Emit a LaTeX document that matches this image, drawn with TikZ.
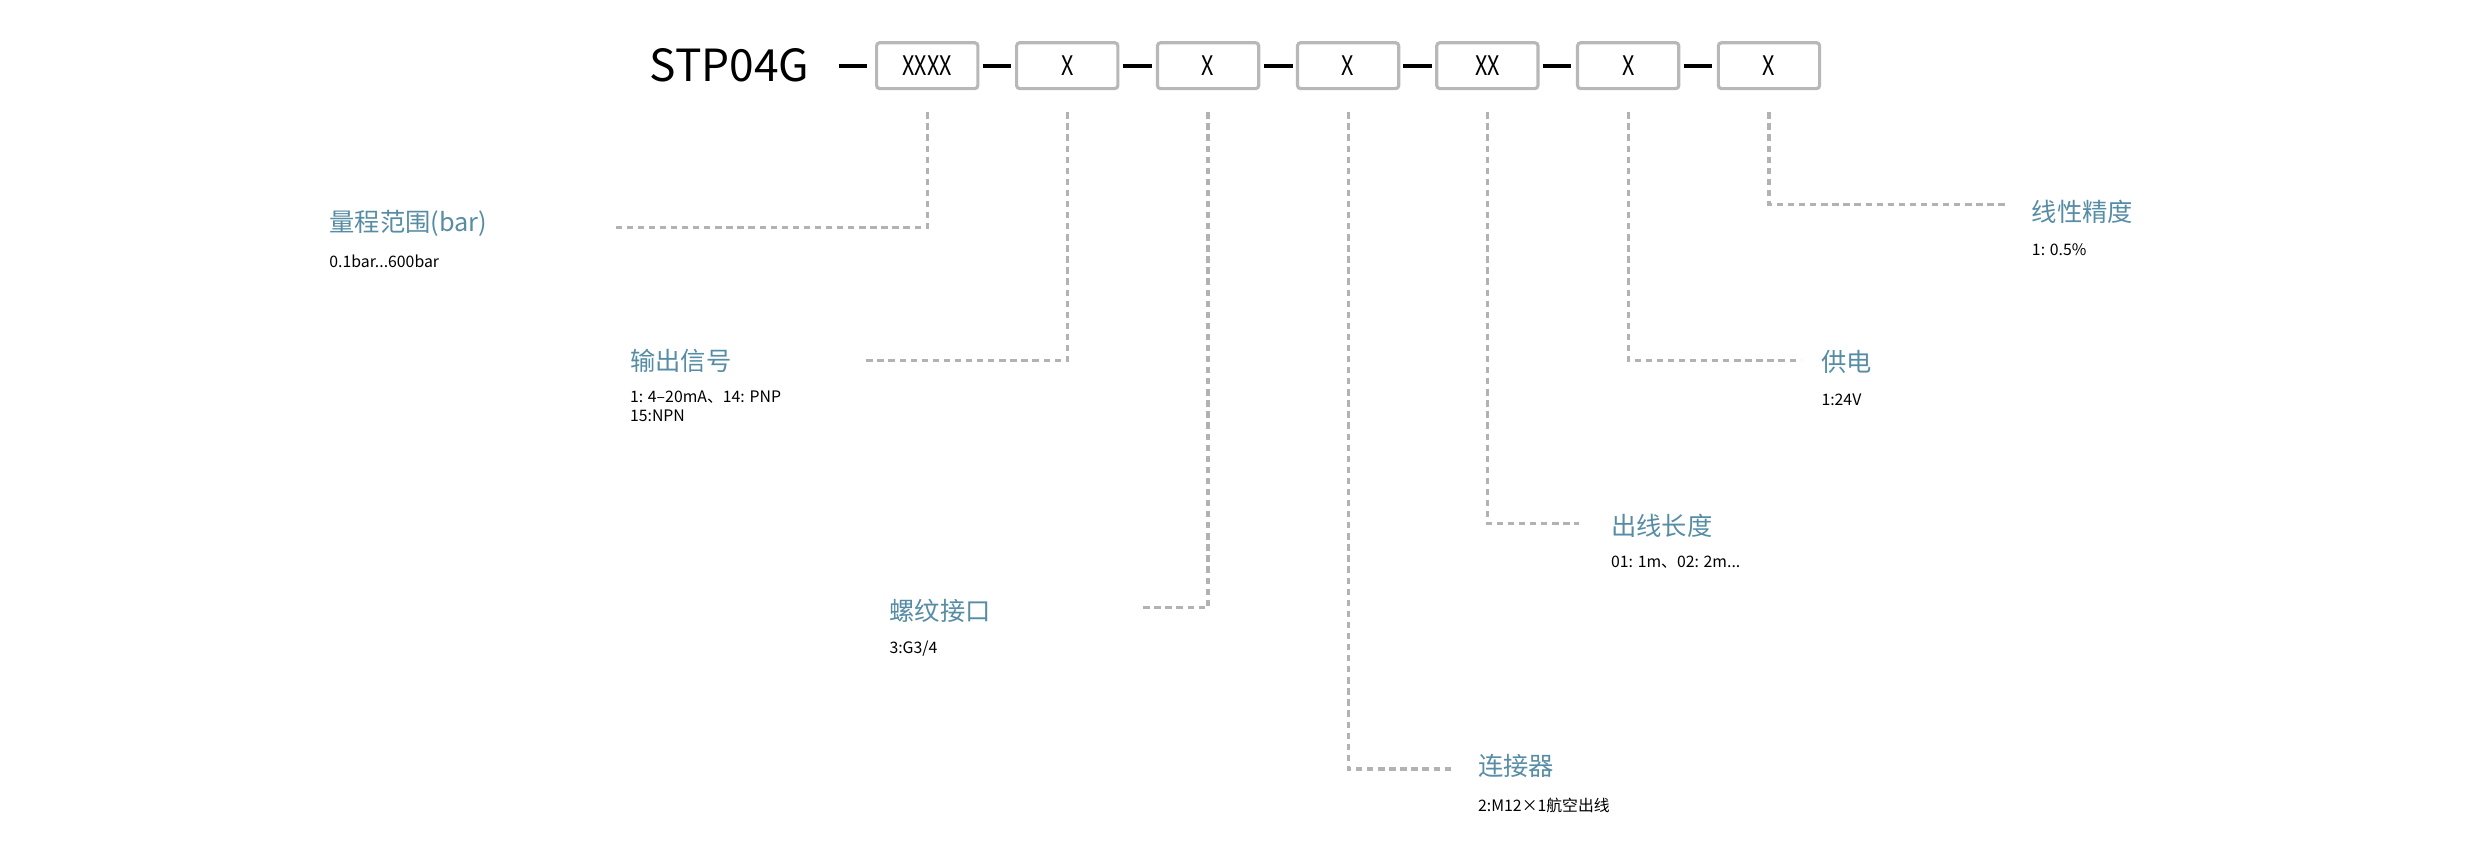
\documentclass[tikz,border=0pt]{standalone}
\usepackage{fontspec}
\setmainfont{Noto Sans CJK SC}
\begin{document}
\begin{tikzpicture}[x=1pt,y=-1pt,
  box/.style={draw=black!28,line width=2pt,rounded corners=2pt,minimum width=64pt,minimum height=29pt,inner sep=0pt,font=\fontsize{17}{17}\selectfont\addfontfeature{FakeStretch=0.8}},
  lead/.style={draw=black!30,line width=2pt,dash pattern=on 4pt off 3pt},
  bar/.style={line width=2.4pt,black},
  ttl/.style={anchor=west,text=cyan!30!teal!75!gray,font=\fontsize{16}{16}\selectfont,inner sep=0pt},
  sub/.style={anchor=north west,font=\fontsize{10}{12}\selectfont,inner sep=0pt,align=left}]
\useasboundingbox (0,0) rectangle (1568,543);
\node[font=\fontsize{28}{28}\selectfont] (t) at (461,41) {STP04G};
\foreach \n/\x/\s in {b1/586/XXXX,b2/674.5/X,b3/763.5/X,b4/852/X,b5/940/XX,b6/1029/X,b7/1118/X}
  \node[box] (\n) at (\x,41.5) {\s};
\foreach \a in {530,621,710,799,887,975,1064}
  \draw[bar] (\a,41.5) -- ++(18,0);
% labels
\node[ttl] (l1) at (208,141) {量程范围(bar)};
\node[sub] (s1) at (208,161) {0.1bar...600bar};
\node[ttl] (l2) at (398,228) {输出信号};
\node[sub] (s2) at (398,247) {1: 4–20mA、14: PNP\\15:NPN};
\node[ttl] (l3) at (562,386) {螺纹接口};
\node[sub] (s3) at (562,405) {3:G3/4};
\node[ttl] (l4) at (934,484) {连接器};
\node[sub] (s4) at (934,504) {2:M12×1航空出线};
\node[ttl] (l5) at (1018,332) {出线长度};
\node[sub] (s5) at (1018,351) {01: 1m、02: 2m...};
\node[ttl] (l6) at (1151,229) {供电};
\node[sub] (s6) at (1151,249) {1:24V};
\node[ttl] (l7) at (1284,134) {线性精度};
\node[sub] (s7) at (1284,154) {1: 0.5\%};
% leaders
\coordinate (e1) at (387,144); \draw[lead] (b1.south) ++(0,14) |- (e1);
\coordinate (e2) at (546,228); \draw[lead] (b2.south) ++(0,14) |- (e2);
\coordinate (e3) at (720,384); \draw[lead] (b3.south) ++(0,14) |- (e3);
\coordinate (e4) at (918,486); \draw[lead] (b4.south) ++(0,14) |- (e4);
\coordinate (e5) at (998,331); \draw[lead] (b5.south) ++(0,14) |- (e5);
\coordinate (e6) at (1138,228); \draw[lead] (b6.south) ++(0,14) |- (e6);
\coordinate (e7) at (1268,129); \draw[lead] (b7.south) ++(0,14) |- (e7);
\end{tikzpicture}
\end{document}
